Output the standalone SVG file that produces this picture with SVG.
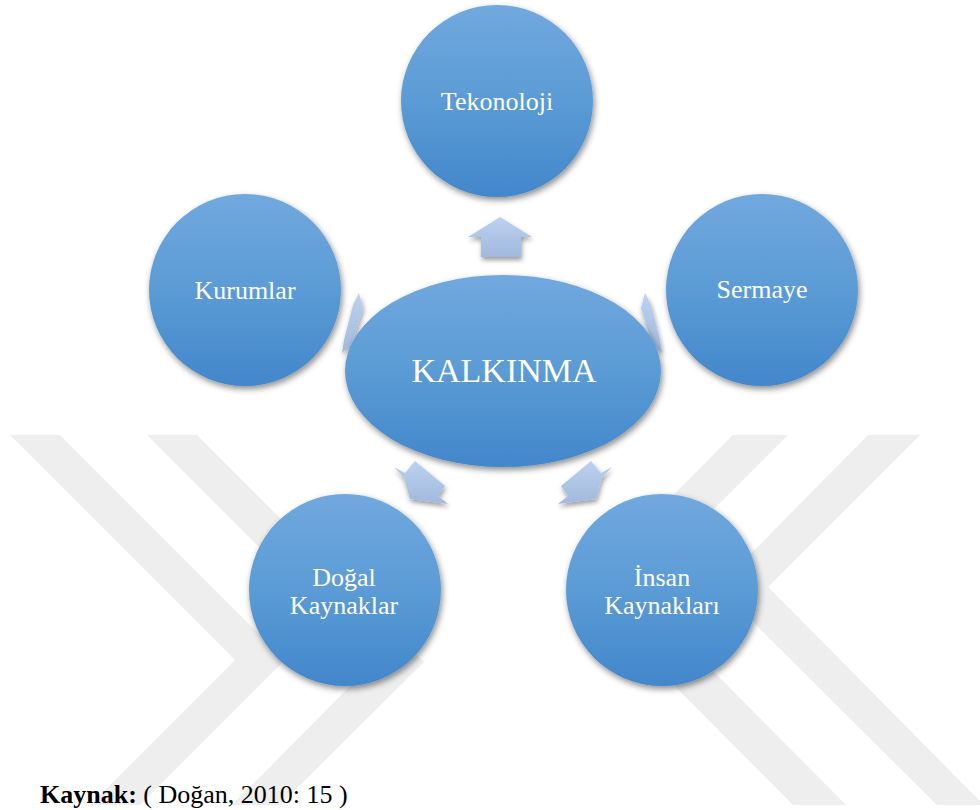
<svg xmlns="http://www.w3.org/2000/svg" width="980" height="810" viewBox="0 0 980 810">
  <defs>
    <linearGradient id="gBlue" x1="0" y1="0" x2="0" y2="1">
      <stop offset="0" stop-color="#71a8de"/>
      <stop offset="0.5" stop-color="#5b9bd5"/>
      <stop offset="1" stop-color="#4287cb"/>
    </linearGradient>
    <linearGradient id="gArrow" x1="0" y1="0" x2="0" y2="1">
      <stop offset="0" stop-color="#bcd1ee"/>
      <stop offset="1" stop-color="#a1b9de"/>
    </linearGradient>
    <filter id="shadow" x="-20%" y="-20%" width="140%" height="140%">
      <feDropShadow dx="1.5" dy="3" stdDeviation="3" flood-color="#000" flood-opacity="0.45"/>
    </filter>
    <filter id="ashadow" x="-30%" y="-30%" width="160%" height="160%">
      <feDropShadow dx="1" dy="3" stdDeviation="2.5" flood-color="#000" flood-opacity="0.4"/>
    </filter>
  </defs>
  <style>
    .node { fill: url(#gBlue); filter: url(#shadow); }
    .arrow { fill: url(#gArrow); filter: url(#ashadow); }
    .lbl { font-family: "Liberation Serif", "Times New Roman", serif; font-size: 26px; fill: #ffffff; text-anchor: middle; }
    .wm { fill: #eeeeee; }
    .cap { font-family: "Liberation Serif", "Times New Roman", serif; font-size: 26px; fill: #000000; }
  </style>
  <rect width="980" height="810" fill="#ffffff"/>
  <g id="watermark">
    <polygon class="wm" points="10,435 60,435 285,660 140,805 90,805 235,660"/>
    <polygon class="wm" points="147,435 197,435 424,662 280,805 232,805 374,662"/>
    <polygon class="wm" points="868,435 920,435 768,587 984,805 937,805 718,587"/>
    <polygon class="wm" points="733,435 788,435 633,590 846,805 793,805 579,590"/>
  </g>
  <g id="connectors">
    <polygon class="arrow" points="500,217 532,237 521,237 521,257 481,257 481,237 468,237"/>
    <polygon class="arrow" points="359,293 363,308 352,343 342,353 344,340 353,305"/>
    <polygon class="arrow" points="645,293 641,308 652,343 662,353 660,340 651,305"/>
    <polygon class="arrow" points="394,467 405,473 415,461 445,486 438,496 448,504 410,499 404,478"/>
    <polygon class="arrow" points="612,467 601,473 591,461 561,486 568,496 558,504 596,499 602,478"/>
  </g>
  <g id="tekonoloji">
    <circle class="node" cx="497" cy="101" r="96"/>
    <text class="lbl" x="497" y="110">Tekonoloji</text>
  </g>
  <g id="kurumlar">
    <circle class="node" cx="245" cy="290" r="96"/>
    <text class="lbl" x="245" y="299">Kurumlar</text>
  </g>
  <g id="sermaye">
    <circle class="node" cx="762" cy="290" r="96"/>
    <text class="lbl" x="762" y="298">Sermaye</text>
  </g>
  <g id="kalkinma">
    <ellipse class="node" cx="503" cy="371" rx="158" ry="96"/>
    <text class="lbl" x="504" y="382" style="font-size:34px">KALKINMA</text>
  </g>
  <g id="dogal">
    <circle class="node" cx="345" cy="590" r="96"/>
    <text class="lbl" x="344" y="586">Doğal</text>
    <text class="lbl" x="344" y="614">Kaynaklar</text>
  </g>
  <g id="insan">
    <circle class="node" cx="662" cy="590" r="96"/>
    <text class="lbl" x="662" y="586">İnsan</text>
    <text class="lbl" x="662" y="614">Kaynakları</text>
  </g>
  <text class="cap" x="40" y="803"><tspan font-weight="bold">Kaynak:</tspan> ( Doğan, 2010: 15 )</text>
</svg>
